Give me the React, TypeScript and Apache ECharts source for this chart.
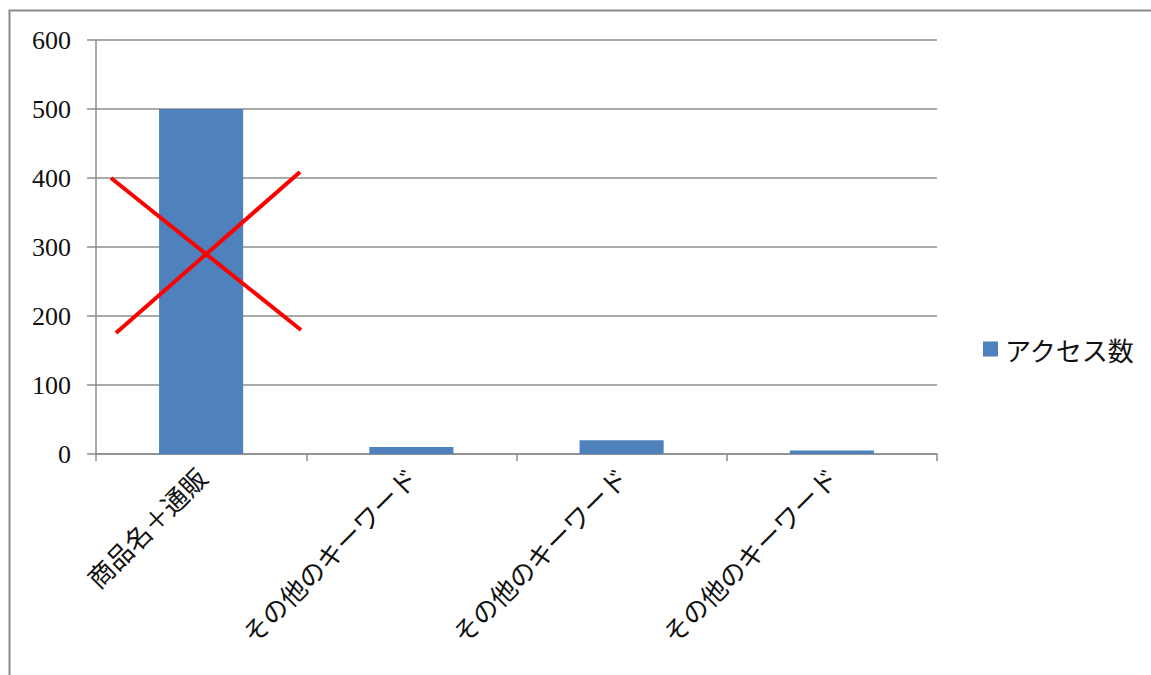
import React, { useEffect, useRef } from "react";
import * as echarts from "echarts";

const categories = ["商品名＋通販", "その他のキーワード", "その他のキーワード", "その他のキーワード"];
const accessCounts = [500, 10, 20, 5];
const seriesName = "アクセス数";
const yTicks = { min: 0, max: 600, interval: 100 };

export default function App() {
  const ref = useRef<HTMLDivElement>(null);
  useEffect(() => {
    if (!ref.current) return;
    const chart = echarts.init(ref.current, null, { renderer: "svg" });
    const gray = "#8c8c8c";
    chart.setOption({
      animation: false,
      backgroundColor: "#ffffff",
      textStyle: { fontFamily: "Liberation Serif" },
      grid: { left: 96, right: 214, top: 40, bottom: 221, containLabel: false },
      legend: {
        left: 978,
        top: 331,
        icon: "rect",
        itemWidth: 15,
        itemHeight: 15,
        itemGap: 10,
        textStyle: { fontFamily: "Noto Sans CJK JP", fontSize: 26, color: "#111", padding: [0, 0, 0, 2] },
        data: [seriesName],
      },
      xAxis: {
        type: "category",
        data: categories,
        axisLine: { lineStyle: { color: gray, width: 1.5 } },
        axisTick: { show: true, length: 7, lineStyle: { color: gray, width: 1.5 } },
        axisLabel: {
          rotate: 45,
          interval: 0,
          margin: 18,
          fontFamily: "Noto Sans CJK JP",
          fontSize: 26,
          color: "#111",
        },
      },
      yAxis: {
        type: "value",
        min: yTicks.min,
        max: yTicks.max,
        interval: yTicks.interval,
        axisLine: { show: true, lineStyle: { color: gray, width: 1.5 } },
        axisTick: { show: true, length: 9, lineStyle: { color: gray, width: 1.5 } },
        splitLine: { lineStyle: { color: gray, width: 1.5 } },
        axisLabel: {
          margin: 25,
          fontFamily: "Liberation Serif",
          fontSize: 26,
          color: "#111",
        },
      },
      series: [
        {
          name: seriesName,
          type: "bar",
          data: accessCounts,
          barWidth: "40%",
          itemStyle: { color: "#4F81BD" },
        },
      ],
      graphic: [
        {
          type: "rect",
          shape: { x: 9.5, y: 10.5, width: 1300, height: 800 },
          style: { fill: "none", stroke: "#8c8c8c", lineWidth: 2 },
          silent: true,
        },
        {
          type: "line",
          shape: { x1: 111, y1: 178, x2: 301, y2: 330 },
          style: { stroke: "#ff0000", lineWidth: 4 },
          z: 100,
        },
        {
          type: "line",
          shape: { x1: 116, y1: 333, x2: 300, y2: 172 },
          style: { stroke: "#ff0000", lineWidth: 4 },
          z: 100,
        },
      ],
    });
    return () => chart.dispose();
  }, []);
  return (
    <div
      ref={ref}
      style={{ position: "fixed", left: 0, top: 0, width: 1151, height: 675, background: "#fff" }}
    />
  );
}
